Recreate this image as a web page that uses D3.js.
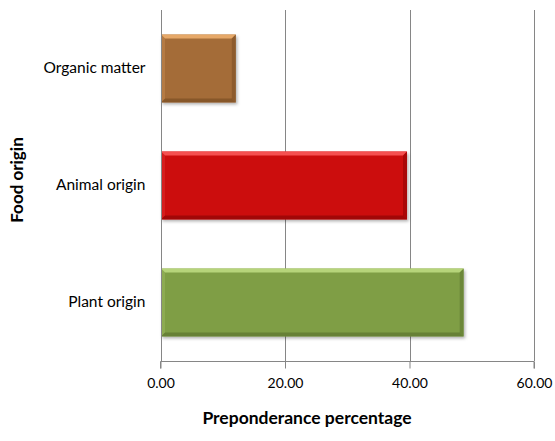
<!DOCTYPE html>
<html>
<head>
<meta charset="utf-8">
<script src="https://cdn.jsdelivr.net/npm/d3@7"></script>
<style>
  html, body { margin: 0; padding: 0; background: #fff; }
  svg { display: block; font-family: Lato, "Open Sans", sans-serif; }
</style>
</head>
<body>
<svg id="chart" width="555" height="441"></svg>
<script>
// Food origin categories, drawn top to bottom
const categories = ["Organic matter", "Animal origin", "Plant origin"];
const values = [12.1, 39.6, 48.7];
const barColors = ["#A46C38", "#CC0A0A", "#7F9E45"];
const topColors = ["#E6A868", "#F55050", "#B6D47A"];
const darkColors = ["#7A4E24", "#8E0606", "#5C7530"];
const xTicks = [0, 20, 40, 60];

const svg = d3.select("#chart");
const margin = { left: 160.5, right: 21, top: 10, bottom: 80 };
const W = 555, H = 441;

const x = d3.scaleLinear().domain([0, 60]).range([margin.left, W - margin.right]);
const y = d3.scaleBand().domain(categories).range([margin.top, H - margin.bottom]).paddingInner(0.42).paddingOuter(0.21);

// drop shadow for the bars
const defs = svg.append("defs");
const f = defs.append("filter").attr("id", "shadow").attr("x", "-10%").attr("y", "-10%").attr("width", "130%").attr("height", "140%");
f.append("feDropShadow").attr("dx", 1.5).attr("dy", 2).attr("stdDeviation", 1.6).attr("flood-color", "#000").attr("flood-opacity", 0.3);

// vertical gridlines
svg.append("g").selectAll("line").data(xTicks.slice(1)).join("line")
  .attr("x1", d => Math.round(x(d)) + 0.5).attr("x2", d => Math.round(x(d)) + 0.5)
  .attr("y1", margin.top).attr("y2", H - margin.bottom)
  .attr("stroke", "#868686").attr("stroke-width", 1);

// bars with a bevelled edge
const bev = 4;
const bars = svg.append("g").selectAll("g").data(categories).join("g");
bars.each(function(c, i) {
  const g = d3.select(this);
  const x0 = x(0) + 0.5, x1 = x(values[i]);
  const y0 = y(c), y1 = y(c) + y.bandwidth();
  g.append("rect").attr("x", x0).attr("y", y0).attr("width", x1 - x0).attr("height", y1 - y0)
    .attr("fill", barColors[i]).attr("filter", "url(#shadow)");
  // top highlight
  g.append("polygon").attr("points", [[x0, y0], [x1, y0], [x1 - bev, y0 + bev], [x0 + bev, y0 + bev]].join(" "))
    .attr("fill", topColors[i]);
  // right shade
  g.append("polygon").attr("points", [[x1, y0], [x1, y1], [x1 - bev, y1 - bev], [x1 - bev, y0 + bev]].join(" "))
    .attr("fill", darkColors[i]).attr("opacity", 0.55);
  // bottom shade
  g.append("polygon").attr("points", [[x0, y1], [x1, y1], [x1 - bev, y1 - bev], [x0 + bev, y1 - bev]].join(" "))
    .attr("fill", darkColors[i]).attr("opacity", 0.7);
  // left edge
  g.append("polygon").attr("points", [[x0, y0], [x0 + bev, y0 + bev], [x0 + bev, y1 - bev], [x0, y1]].join(" "))
    .attr("fill", topColors[i]).attr("opacity", 0.25);
});

// x axis
const xAxis = svg.append("g").attr("transform", `translate(0,${H - margin.bottom + 0.5})`)
  .call(d3.axisBottom(x).tickValues(xTicks).tickFormat(d3.format(".2f")).tickSize(7).tickPadding(10));
xAxis.select(".domain").attr("stroke", "#868686").attr("d", `M${x(0)},7V0H${x(60)}V7`);
xAxis.selectAll(".tick line").attr("stroke", "#868686");
xAxis.selectAll(".tick text").attr("font-size", 14).attr("fill", "#000").attr("font-family", "Lato, sans-serif");

// y axis
const yAxis = svg.append("g").attr("transform", `translate(${Math.round(x(0)) + 0.5},0)`)
  .call(d3.axisLeft(y).tickSize(0).tickPadding(16));
yAxis.select(".domain").attr("stroke", "#868686").attr("d", `M0,${margin.top}V${H - margin.bottom}`);
yAxis.selectAll(".tick text").attr("font-size", 15.5).attr("fill", "#000").attr("font-family", "Lato, sans-serif");

// axis titles
svg.append("text").attr("x", 307).attr("y", 424).attr("text-anchor", "middle")
  .attr("font-size", 17.5).attr("font-weight", "bold").attr("fill", "#000").text("Preponderance percentage");
svg.append("text").attr("transform", "translate(23,180) rotate(-90)").attr("text-anchor", "middle")
  .attr("font-size", 17).attr("font-weight", "bold").attr("fill", "#000").text("Food origin");
</script>
</body>
</html>
